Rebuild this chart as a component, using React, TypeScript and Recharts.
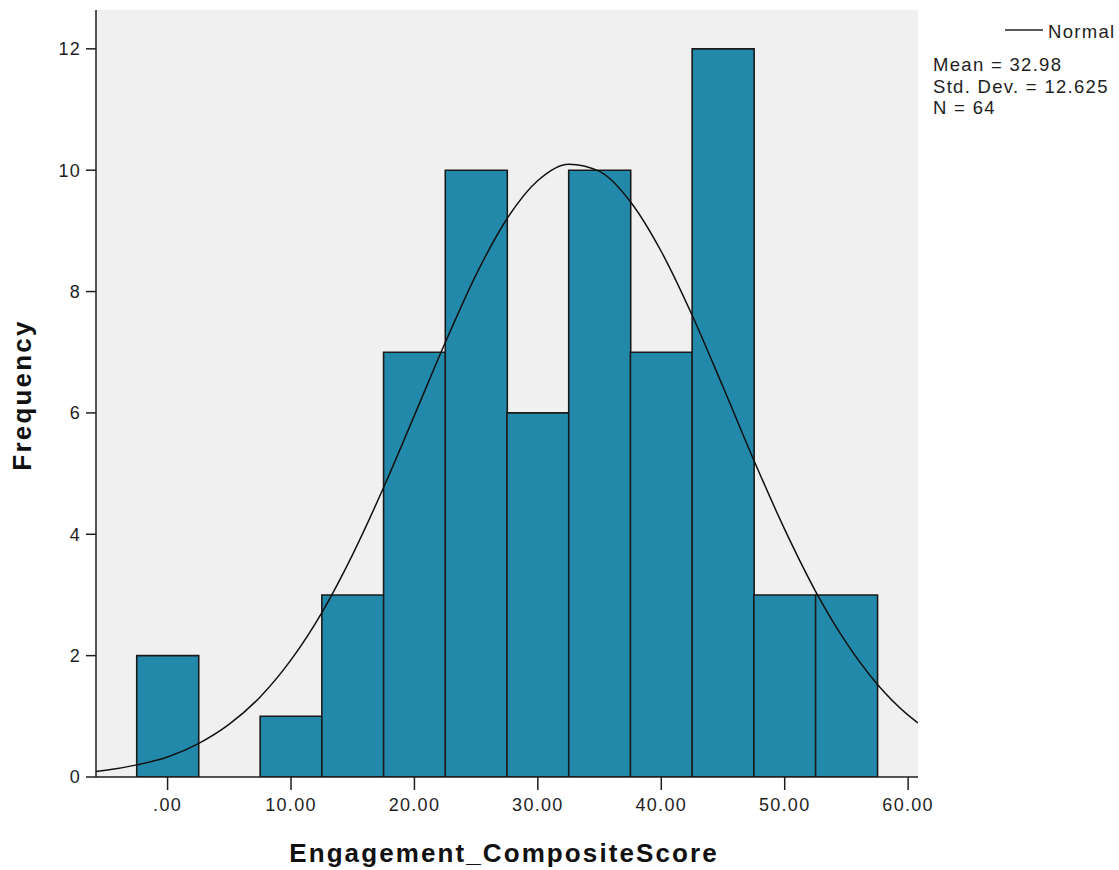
import React from 'react'
import {
  ComposedChart, Bar, Line, XAxis, YAxis, CartesianGrid,
} from 'recharts'

// histogram bins (midpoints) and their frequencies
const binMids = [0, 5, 10, 15, 20, 25, 30, 35, 40, 45, 50, 55]
const binCounts = [2, 0, 1, 3, 7, 10, 6, 10, 7, 12, 3, 3]

// normal curve
const curveX = [-5.8, -5, -2.5, 0, 2.5, 5, 7.5, 10, 12.5, 15, 17.5, 20, 22.5, 25, 27.5, 30, 32.5, 35, 37.5, 40, 42.5, 45, 47.5, 50, 52.5, 55, 57.5, 60, 60.8]
const curveY = [0.09, 0.11, 0.2, 0.33, 0.55, 0.87, 1.32, 1.93, 2.71, 3.67, 4.77, 5.96, 7.16, 8.28, 9.2, 9.83, 10.1, 9.98, 9.48, 8.66, 7.61, 6.43, 5.22, 4.08, 3.06, 2.21, 1.53, 1.02, 0.89]

const xTicks = [0, 10, 20, 30, 40, 50, 60]
const yTicks = [0, 2, 4, 6, 8, 10, 12]

const statLines = ['Mean = 32.98', 'Std. Dev. = 12.625', 'N = 64']

const FONT = '"Liberation Sans", Arial, sans-serif'
const INK = '#1e1e1e'

const bars = binMids.map((mid, i) => ({ mid, count: binCounts[i] }))
const curve = curveX.map((x, i) => ({ x, y: curveY[i] }))

const fmtX = (v: number) => (v === 0 ? '.00' : v.toFixed(2))

export default function App() {
  const tickStyle = { fontSize: 18, fill: INK, fontFamily: FONT, letterSpacing: 1.3 }
  return (
    <div style={{ position: 'absolute', left: 0, top: 0, background: '#fff' }}>
      <ComposedChart
        width={1119}
        height={870}
        data={bars}
        margin={{ top: 10, right: 201, bottom: 0, left: 0 }}
        barCategoryGap={0}
        barGap={0}
      >
        <CartesianGrid fill="#f0f0f0" horizontal={false} vertical={false} xAxisId="curve" />
        <XAxis
          xAxisId="curve"
          type="number"
          dataKey="x"
          domain={[-5.8, 60.8]}
          allowDataOverflow
          ticks={xTicks}
          tickFormatter={fmtX}
          height={93}
          tickSize={13}
          tickMargin={8}
          tick={tickStyle}
          axisLine={{ stroke: INK, strokeWidth: 1.5 }}
          tickLine={{ stroke: INK, strokeWidth: 1.5 }}
        />
        <XAxis
          xAxisId="bins"
          type="number"
          dataKey="mid"
          domain={[-5.8, 60.8]}
          allowDataOverflow
          height={0}
          hide
        />
        <XAxis
          xAxisId="top"
          orientation="top"
          type="number"
          domain={[-5.8, 60.8]}
          allowDataOverflow
          height={0}
          tick={false}
          tickLine={false}
          axisLine={{ stroke: INK, strokeWidth: 1.7 }}
        />
        <YAxis
          type="number"
          domain={[0, 12.64]}
          allowDataOverflow
          ticks={yTicks}
          width={96}
          tickSize={10}
          tickMargin={5}
          tick={tickStyle}
          axisLine={{ stroke: INK, strokeWidth: 1.5 }}
          tickLine={{ stroke: INK, strokeWidth: 1.5 }}
        />
        <YAxis
          yAxisId="right"
          orientation="right"
          domain={[0, 12.64]}
          width={0}
          tick={false}
          tickLine={false}
          axisLine={{ stroke: INK, strokeWidth: 1.5 }}
        />
        <Bar
          xAxisId="bins"
          dataKey="count"
          fill="#2389ab"
          stroke="#1a1a1a"
          strokeWidth={1.6}
          isAnimationActive={false}
        />
        <Line
          xAxisId="curve"
          data={curve}
          dataKey="y"
          type="monotone"
          stroke="#111"
          strokeWidth={1.5}
          dot={false}
          activeDot={false}
          isAnimationActive={false}
        />

        <text
          x={504}
          y={862}
          textAnchor="middle"
          fontFamily={FONT}
          fontWeight="bold"
          fontSize={26}
          letterSpacing={2.1}
          fill="#111"
        >
          Engagement_CompositeScore
        </text>
        <text
          transform="translate(31,395) rotate(-90)"
          textAnchor="middle"
          fontFamily={FONT}
          fontWeight="bold"
          fontSize={26}
          letterSpacing={2.2}
          fill="#111"
        >
          Frequency
        </text>

        <line x1={1005} y1={30} x2={1043} y2={30} stroke="#222" strokeWidth={1.5} />
        <text x={1048} y={38} fontFamily={FONT} fontSize={18.5} letterSpacing={1.3} fill={INK}>
          Normal
        </text>
        {statLines.map((s, i) => (
          <text key={s} x={933} y={71 + i * 21.5} fontFamily={FONT} fontSize={18.5} letterSpacing={1.3} fill={INK}>
            {s}
          </text>
        ))}
      </ComposedChart>
    </div>
  )
}
